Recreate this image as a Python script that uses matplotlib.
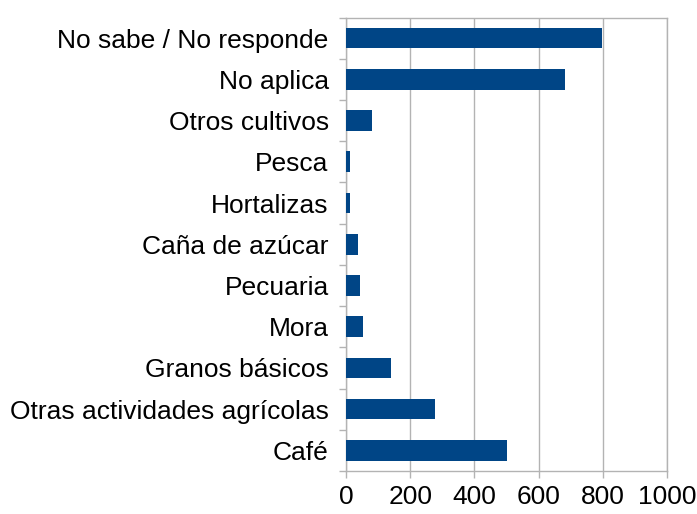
import numpy as np
import matplotlib.pyplot as plt

# categories from bottom to top, as drawn
categories = ["Café", "Otras actividades agrícolas", "Granos básicos", "Mora",
              "Pecuaria", "Caña de azúcar", "Hortalizas", "Pesca",
              "Otros cultivos", "No aplica", "No sabe / No responde"]
values = [503, 278, 141, 53, 44, 37, 12, 12, 81, 681, 799]
x_ticks = [0, 200, 400, 600, 800, 1000]

plt.rcParams['font.family'] = ['Liberation Sans', 'DejaVu Sans']

fig = plt.figure(figsize=(6.97, 5.14), dpi=100)
ax = fig.add_axes([346 / 697, 1 - 471 / 514, (667 - 346) / 697, (471 - 17.5) / 514])

pos = np.arange(len(categories))
ax.barh(pos, values, height=0.5, color="#004586", zorder=3)

grey = "#b3b3b3"
ax.set_xlim(0, 1000)
ax.set_ylim(-0.5, len(categories) - 0.5)
ax.set_xticks(x_ticks)
ax.set_xticklabels([str(t) for t in x_ticks], fontsize=19)
ax.xaxis.grid(True, color=grey, linewidth=1, zorder=0)

# category labels centred on bars, ticks on the boundaries
ax.set_yticks(pos)
ax.set_yticklabels(categories, fontsize=19)
ax.set_yticks(np.arange(-0.5, len(categories), 1), minor=True)
ax.tick_params(axis="y", which="major", length=0, pad=12.5)
ax.tick_params(axis="y", which="minor", length=5, color=grey, width=1)
ax.tick_params(axis="x", length=5, color=grey, width=1, pad=5)

for s in ax.spines.values():
    s.set_color(grey)
    s.set_linewidth(1)

fig.savefig("out.png", dpi=100)
